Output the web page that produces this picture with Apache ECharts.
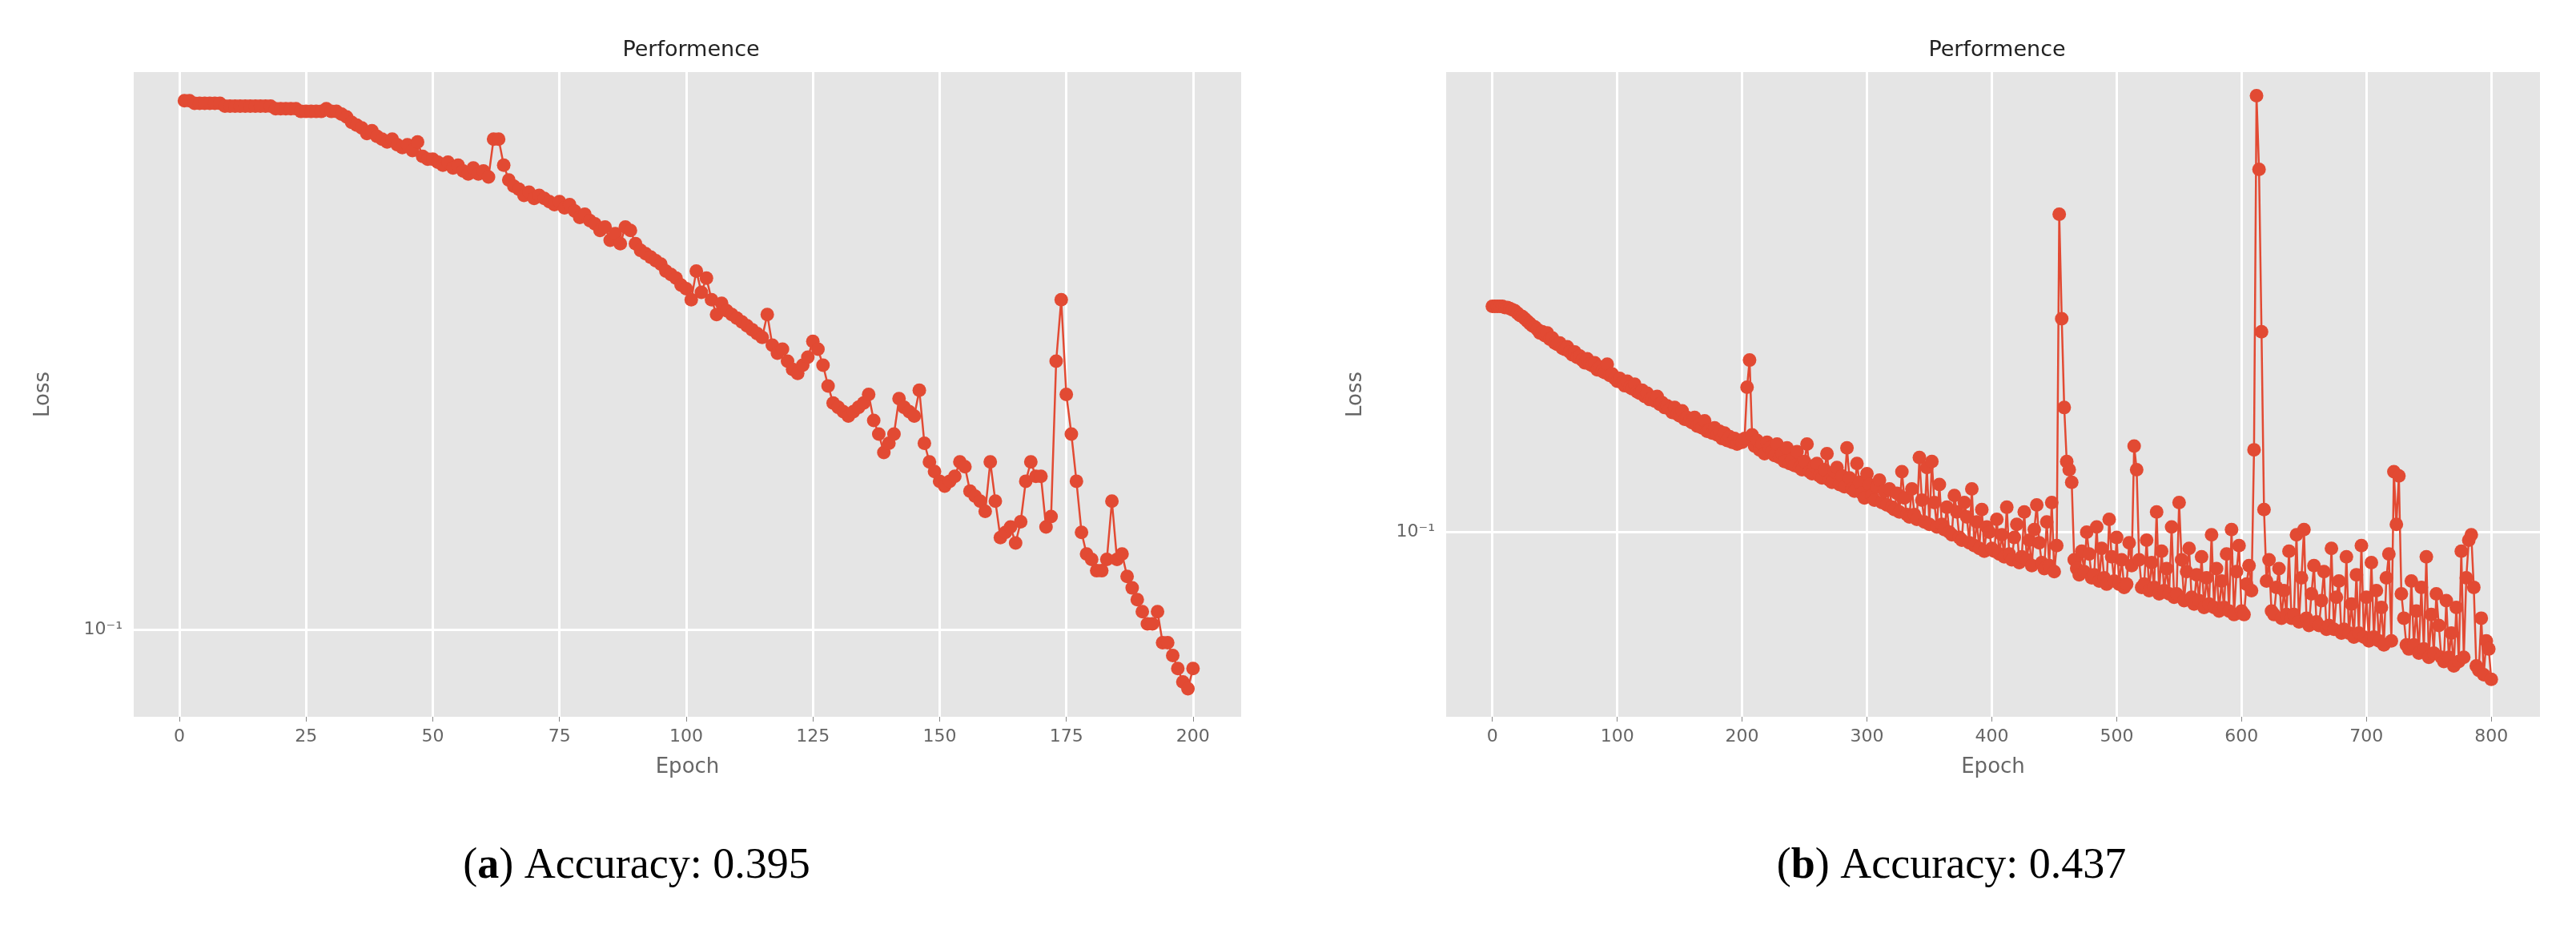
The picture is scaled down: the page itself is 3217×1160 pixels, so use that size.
<!DOCTYPE html>
<html>
<head>
<meta charset="utf-8">
<script src="https://cdn.jsdelivr.net/npm/echarts@6/dist/echarts.min.js"></script>
<style>
html,body{margin:0;padding:0;background:#fff;}
#chart{width:3217px;height:1160px;}
</style>
</head>
<body>
<div id="chart"></div>
<script>
// (a) loss per epoch, epochs 1..200
const lossA = [
  0.234,0.234,0.233,0.233,0.233,0.233,0.233,0.233,0.232,0.232,
  0.232,0.232,0.232,0.232,0.232,0.232,0.232,0.232,0.231,0.231,
  0.231,0.231,0.231,0.230,0.230,0.230,0.230,0.230,0.231,0.230,
  0.230,0.229,0.228,0.226,0.225,0.224,0.222,0.223,0.221,0.220,
  0.219,0.220,0.218,0.217,0.218,0.216,0.219,0.214,0.213,0.213,
  0.212,0.211,0.212,0.210,0.211,0.209,0.208,0.210,0.208,0.209,0.207,
  0.220,0.220,0.211,0.206,0.204,0.203,0.201,0.202,0.200,
  0.201,0.200,0.199,0.198,0.199,0.197,0.198,0.196,0.194,0.195,
  0.193,0.192,0.190,0.191,0.187,0.189,0.186,0.191,0.190,0.186,
  0.184,0.183,0.182,0.181,0.180,0.178,0.177,0.176,0.174,
  0.173,0.170,0.178,0.172,0.176,0.170,0.166,0.169,0.167,0.166,0.165,
  0.164,0.163,0.162,0.161,0.160,0.166,0.158,0.156,0.157,0.154,
  0.152,0.151,0.153,0.155,0.159,0.157,0.153,0.148,0.144,0.143,
  0.142,0.141,0.142,0.143,0.144,0.146,0.140,0.137,0.133,0.135,
  0.137,0.145,0.143,0.142,0.141,0.147,0.135,0.131,0.129,0.127,
  0.126,0.127,0.128,0.131,0.130,0.125,0.124,0.123,0.121,0.131,
  0.123,0.116,0.117,0.118,0.115,0.119,0.127,0.131,0.128,0.128,
  0.118,0.120,0.154,0.170,0.146,0.137,0.127,0.117,0.113,0.112,
  0.110,0.110,0.112,0.123,0.112,0.113,0.109,0.107,0.105,0.103,
  0.101,0.101,0.103,0.098,0.098,0.096,0.094,0.092,0.091,0.094
];

// (b) loss every 2 epochs, epochs 0..800
const lossB = [
  0.237,0.237,0.237,0.237,0.237,0.236,0.236,0.235,0.234,0.233,0.231,0.229,0.228,0.226,0.224,0.222,0.220,0.219,0.217,0.214,
  0.215,0.212,0.214,0.209,0.210,0.206,0.205,0.206,0.202,0.201,0.203,0.199,0.197,0.199,0.195,0.196,0.193,0.191,0.194,0.190,
  0.189,0.191,0.186,0.188,0.185,0.184,0.190,0.182,0.183,0.180,0.178,0.180,0.177,0.175,0.178,0.174,0.173,0.176,0.171,0.170,
  0.172,0.168,0.170,0.166,0.167,0.165,0.168,0.163,0.164,0.161,0.162,0.160,0.158,0.161,0.157,0.156,0.159,0.154,0.155,0.153,
  0.152,0.155,0.150,0.151,0.149,0.153,0.147,0.148,0.146,0.149,0.145,0.147,0.143,0.146,0.142,0.144,0.141,0.143,0.140,0.142,
  0.141,0.143,0.174,0.193,0.145,0.139,0.142,0.137,0.140,0.135,0.141,0.138,0.136,0.134,0.140,0.133,0.135,0.131,0.138,0.130,
  0.132,0.129,0.136,0.128,0.127,0.131,0.140,0.126,0.125,0.129,0.130,0.124,0.123,0.127,0.135,0.122,0.121,0.126,0.128,0.120,
  0.124,0.119,0.138,0.123,0.118,0.117,0.130,0.121,0.116,0.114,0.125,0.120,0.115,0.113,0.119,0.122,0.112,0.117,0.111,0.118,
  0.110,0.109,0.116,0.108,0.126,0.114,0.107,0.106,0.118,0.107,0.105,0.133,0.113,0.104,0.128,0.103,0.131,0.112,0.102,0.120,
  0.103,0.101,0.110,0.100,0.099,0.115,0.108,0.098,0.097,0.112,0.106,0.096,0.118,0.095,0.104,0.094,0.109,0.093,0.102,0.100,
  0.094,0.093,0.105,0.092,0.099,0.091,0.110,0.092,0.090,0.098,0.103,0.089,0.091,0.108,0.090,0.097,0.088,0.101,0.111,0.096,
  0.089,0.087,0.104,0.088,0.112,0.086,0.095,0.337,0.226,0.161,0.131,0.127,0.121,0.090,0.087,0.085,0.093,0.086,0.100,0.092,
  0.084,0.085,0.102,0.083,0.094,0.084,0.082,0.105,0.091,0.083,0.098,0.082,0.090,0.081,0.082,0.096,0.088,0.139,0.127,0.090,
  0.081,0.082,0.097,0.080,0.089,0.081,0.108,0.079,0.093,0.080,0.087,0.079,0.102,0.078,0.079,0.112,0.090,0.077,0.086,0.094,
  0.078,0.076,0.085,0.077,0.091,0.075,0.084,0.076,0.099,0.075,0.087,0.074,0.083,0.075,0.092,0.074,0.101,0.073,0.086,0.095,
  0.074,0.073,0.082,0.088,0.080,0.137,0.530,0.400,0.215,0.109,0.083,0.090,0.074,0.073,0.081,0.087,0.072,0.080,0.073,0.093,
  0.072,0.073,0.099,0.071,0.084,0.101,0.072,0.070,0.079,0.088,0.071,0.070,0.077,0.086,0.069,0.070,0.094,0.069,0.078,0.083,
  0.068,0.069,0.091,0.068,0.076,0.067,0.085,0.068,0.095,0.067,0.078,0.066,0.089,0.067,0.080,0.066,0.075,0.065,0.084,0.092,
  0.066,0.126,0.103,0.124,0.079,0.072,0.065,0.064,0.083,0.065,0.074,0.063,0.081,0.064,0.091,0.062,0.073,0.063,0.079,0.070,
  0.062,0.061,0.077,0.062,0.068,0.060,0.075,0.061,0.093,0.062,0.084,0.097,0.099,0.081,0.060,0.059,0.072,0.058,0.066,0.064,
  0.057
];

const ticksA = [0, 25, 50, 75, 100, 125, 150, 175, 200];
const ticksB = [0, 100, 200, 300, 400, 500, 600, 700, 800];
const captions = ['a', 'b'];
const accuracy = ['0.395', '0.437'];

const red = '#E24A33';
const tickFont = { color: '#666', fontSize: 22, fontFamily: 'DejaVu Sans' };

function xAxisOf(idx, min, max, ticks) {
    return {
        type: 'value', gridIndex: idx, min: min, max: max,
        name: 'Epoch', nameLocation: 'middle', nameGap: 50,
        nameTextStyle: { color: '#666', fontSize: 26, fontFamily: 'DejaVu Sans' },
        axisLine: { show: false },
        axisTick: { show: true, customValues: ticks, length: 6, lineStyle: { color: '#888' } },
        axisLabel: Object.assign({ customValues: ticks, margin: 14 }, tickFont),
        splitLine: { show: false }
    };
}

function yAxisOf(idx, min, max) {
    return {
        type: 'log', logBase: 10, gridIndex: idx, min: min, max: max,
        name: 'Loss', nameLocation: 'middle', nameGap: 100,
        nameTextStyle: { color: '#666', fontSize: 26, fontFamily: 'DejaVu Sans' },
        axisLine: { show: false },
        axisTick: { show: false },
        axisLabel: { show: false },
        splitLine: { show: false }
    };
}

// white grid lines, plus the 10^-1 line which carries its own tick label
function gridLines(ticks) {
    return ticks.map(t => ({ xAxis: t })).concat([{
        yAxis: 0.1,
        label: Object.assign({ show: true, position: 'start', formatter: '10⁻¹', distance: 14 }, tickFont)
    }]);
}

function lossSeries(idx, data, ticks) {
    return {
        type: 'line', xAxisIndex: idx, yAxisIndex: idx,
        data: data,
        symbol: 'circle', symbolSize: 17,
        itemStyle: { color: red },
        lineStyle: { color: red, width: 2.5 },
        markLine: {
            silent: true, symbol: 'none', z: 1, label: { show: false },
            lineStyle: { color: '#fff', width: 3, type: 'solid' },
            data: gridLines(ticks)
        }
    };
}

const chart = echarts.init(document.getElementById('chart'));
chart.setOption({
    backgroundColor: '#fff',
    animation: false,
    title: [
        { text: 'Performence', left: 858, top: 44, textAlign: 'center',
          textStyle: { fontSize: 27, fontWeight: 'normal', color: '#222', fontFamily: 'DejaVu Sans' } },
        { text: 'Performence', left: 2489, top: 44, textAlign: 'center',
          textStyle: { fontSize: 27, fontWeight: 'normal', color: '#222', fontFamily: 'DejaVu Sans' } },
        { text: '({b|' + captions[0] + '}) Accuracy: ' + accuracy[0], left: 790, top: 1050, textAlign: 'center',
          textStyle: { fontSize: 54, fontWeight: 'normal', color: '#000', fontFamily: 'Liberation Serif',
            rich: { b: { fontSize: 54, fontWeight: 'bold', fontFamily: 'Liberation Serif', color: '#000' } } } },
        { text: '({b|' + captions[1] + '}) Accuracy: ' + accuracy[1], left: 2432, top: 1050, textAlign: 'center',
          textStyle: { fontSize: 54, fontWeight: 'normal', color: '#000', fontFamily: 'Liberation Serif',
            rich: { b: { fontSize: 54, fontWeight: 'bold', fontFamily: 'Liberation Serif', color: '#000' } } } }
    ],
    grid: [
        { left: 167, top: 90, width: 1383, height: 805, show: true, backgroundColor: '#E5E5E5', borderWidth: 0 },
        { left: 1806, top: 90, width: 1366, height: 805, show: true, backgroundColor: '#E5E5E5', borderWidth: 0 }
    ],
    xAxis: [xAxisOf(0, -9, 209.5, ticksA), xAxisOf(1, -37, 839, ticksB)],
    yAxis: [yAxisOf(0, 0.087, 0.245), yAxisOf(1, 0.0494, 0.58)],
    series: [
        lossSeries(0, lossA.map((v, i) => [i + 1, v]), ticksA),
        lossSeries(1, lossB.map((v, i) => [i * 2, v]), ticksB)
    ]
});
</script>
</body>
</html>
